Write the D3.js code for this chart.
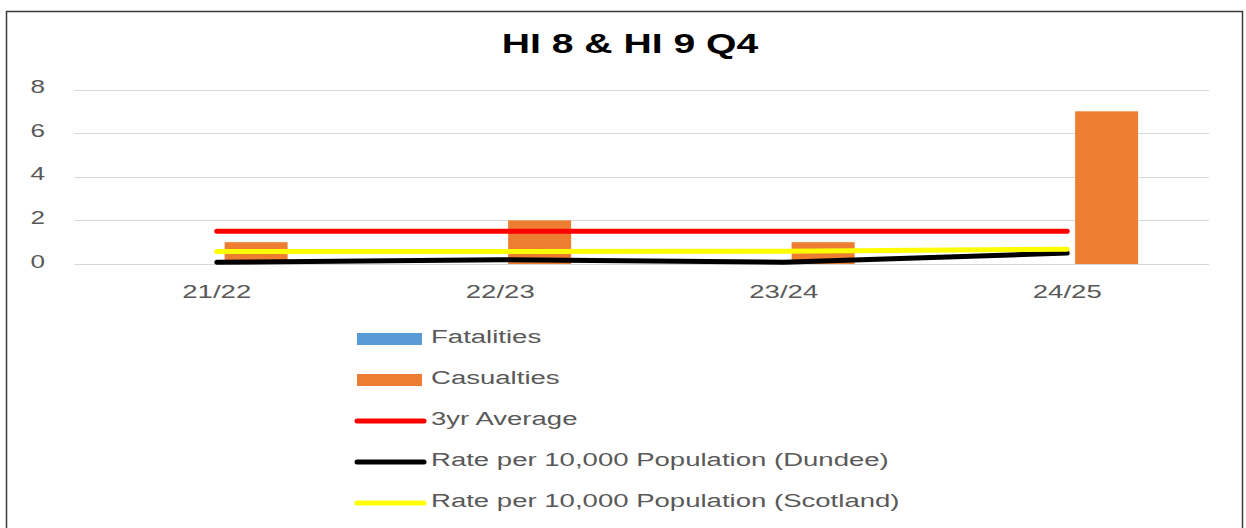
<!DOCTYPE html>
<html>
<head>
<meta charset="utf-8">
<script src="https://cdn.jsdelivr.net/npm/d3@7"></script>
<style>
  html, body { margin: 0; padding: 0; background: #ffffff; }
  svg { display: block; }
</style>
</head>
<body>
<script>
// ---- data ----
const categories = ["21/22", "22/23", "23/24", "24/25"];
const fatalities = [0, 0, 0, 0];
const casualties = [1, 2, 1, 7];
const threeYrAverage = [1.5, 1.5, 1.5, 1.5];
const rateDundee = [0.08, 0.2, 0.08, 0.5];
const rateScotland = [0.57, 0.57, 0.58, 0.68];
const yTicks = [0, 2, 4, 6, 8];
const barSeries = ["Fatalities", "Casualties"];
const legendLabels = ["Fatalities", "Casualties", "3yr Average",
  "Rate per 10,000 Population (Dundee)", "Rate per 10,000 Population (Scotland)"];
const titleText = "HI 8 & HI 9 Q4";

// ---- style ----
const W = 1246, H = 528;
const SX = 1.45; // horizontal stretch of the reference text
const textColor = "#595959";
const colors = {
  Fatalities: "#5B9BD5",
  Casualties: "#ED7D31",
  avg: "#FF0000",
  dundee: "#000000",
  scotland: "#FFFF00"
};
const font = "'Liberation Sans', Arial, sans-serif";

const svg = d3.select("body").append("svg").attr("width", W).attr("height", H);

// outer frame
svg.append("rect")
  .attr("x", 6.5).attr("y", 11.5)
  .attr("width", 1236).attr("height", 600)
  .attr("fill", "#ffffff")
  .attr("stroke", "#3a3a3a").attr("stroke-width", 1.5);

function stretchedText(g, x, y, txt, size, anchor, weight, color) {
  return g.append("text")
    .attr("transform", `translate(${x},${y}) scale(${SX},1)`)
    .attr("text-anchor", anchor)
    .attr("font-family", font)
    .attr("font-size", size)
    .attr("font-weight", weight || "normal")
    .attr("fill", color || textColor)
    .text(txt);
}

// title
stretchedText(svg, 630, 53, titleText, 27, "middle", "bold", "#000000");

// scales
const x0 = d3.scaleBand().domain(categories).range([75, 1209]).padding(0);
const bw = x0.bandwidth();
const x1 = d3.scaleBand().domain(barSeries).range([bw * 0.25, bw * 0.75]).paddingInner(0.2);
const y = d3.scaleLinear().domain([0, 8]).range([264, 89.5]);

// gridlines
const grid = svg.append("g");
grid.selectAll("line").data(yTicks).join("line")
  .attr("x1", 74).attr("x2", 1209)
  .attr("y1", d => Math.round(y(d)) + 0.5).attr("y2", d => Math.round(y(d)) + 0.5)
  .attr("stroke", "#D9D9D9").attr("stroke-width", 1.2);

// y axis labels
const yl = svg.append("g");
yTicks.forEach(t => stretchedText(yl, 45, y(t) + 3.5, String(t), 18, "end"));

// x axis labels
const xl = svg.append("g");
categories.forEach(c => stretchedText(xl, x0(c) + bw / 2, 297.5, c, 19, "middle"));

// bars
const barData = [];
categories.forEach((c, i) => {
  barData.push({ c, s: "Fatalities", v: fatalities[i] });
  barData.push({ c, s: "Casualties", v: casualties[i] });
});
svg.append("g").selectAll("rect").data(barData).join("rect")
  .attr("x", d => x0(d.c) + x1(d.s))
  .attr("width", x1.bandwidth())
  .attr("y", d => y(d.v))
  .attr("height", d => y(0) - y(d.v))
  .attr("fill", d => colors[d.s]);

// lines
const cx = c => x0(c) + bw / 2;
const lineGen = d3.line().x(d => cx(d.c)).y(d => y(d.v));
const lineSeries = [
  { key: "avg", vals: threeYrAverage },
  { key: "dundee", vals: rateDundee },
  { key: "scotland", vals: rateScotland }
];
svg.append("g").selectAll("path").data(lineSeries).join("path")
  .attr("d", d => lineGen(categories.map((c, i) => ({ c, v: d.vals[i] }))))
  .attr("fill", "none")
  .attr("stroke", d => colors[d.key])
  .attr("stroke-width", 5)
  .attr("stroke-linecap", "round")
  .attr("stroke-linejoin", "round");

// legend
const legendKeys = ["Fatalities", "Casualties", "avg", "dundee", "scotland"];
const lg = svg.append("g");
legendKeys.forEach((k, i) => {
  const base = 343 + i * 41;
  if (i < 2) {
    lg.append("rect").attr("x", 357).attr("y", base - 10).attr("width", 65).attr("height", 12)
      .attr("fill", colors[k]);
  } else {
    lg.append("line").attr("x1", 357).attr("x2", 424)
      .attr("y1", base - 4).attr("y2", base - 4)
      .attr("stroke", colors[k]).attr("stroke-width", 5).attr("stroke-linecap", "round");
  }
  stretchedText(lg, 431, base, legendLabels[i], 19, "start");
});
</script>
</body>
</html>
